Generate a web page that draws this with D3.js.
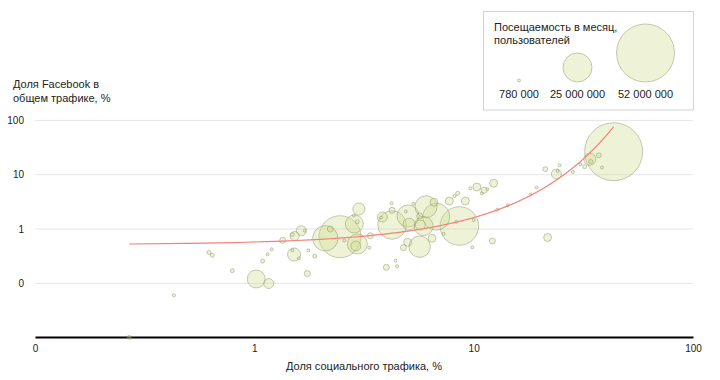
<!DOCTYPE html>
<html>
<head>
<meta charset="utf-8">
<script src="https://cdn.jsdelivr.net/npm/d3@7"></script>
<style>
  body { margin: 0; background: #fff; }
  svg text { font-family: "Liberation Sans", Arial, sans-serif; fill: #222; }
</style>
</head>
<body>
<svg id="chart" width="720" height="380"></svg>
<script>
// share of social traffic, %
const socialShare = [
  0.269, 0.430, 0.621, 0.643, 0.794, 1.02, 1.164, 1.091, 1.150, 1.199,
  1.346, 1.490, 1.527, 1.638, 1.699, 1.517, 1.490, 1.596, 1.763, 1.884,
  1.744, 2.459, 2.107, 2.221, 2.572, 2.857, 2.996, 2.843, 2.949, 2.949,
  2.903, 3.344, 3.380, 3.998, 4.406, 4.475, 4.227, 4.245, 3.834, 3.78,
  4.245, 4.907, 5.022, 5.075, 4.779, 5.001, 5.308, 5.673, 5.673, 5.913,
  5.712, 6.065, 6.597, 6.757, 6.458, 7.296, 8.605, 8.336, 7.745, 9.163,
  10.0, 9.861, 10.34, 11.15, 10.89, 11.57, 9.66, 8.45, 8.19, 12.33,
  12.17, 12.82, 14.32, 18.17, 19.37, 21.22, 21.74, 23.83, 24.15, 24.66,
  28.33, 30.64, 32.06, 33.86, 34.2, 37.22, 38.49, 43.47
];
// Facebook share of total traffic, %
const facebookShare = [
  0.0101, 0.060, 0.369, 0.328, 0.171, 0.120, 0.099, 0.257, 0.342, 0.423,
  0.619, 0.792, 0.743, 0.930, 0.930, 0.339, 0.407, 0.289, 0.405, 0.318,
  0.151, 0.721, 0.674, 1.0, 0.614, 1.236, 2.335, 1.773, 1.363, 0.529,
  0.486, 0.453, 0.753, 0.197, 0.261, 0.206, 2.973, 2.209, 1.663, 1.63,
  1.185, 2.101, 1.736, 1.221, 0.453, 0.569, 2.923, 1.736, 0.472, 1.136,
  1.185, 2.574, 3.103, 1.685, 0.674, 0.819, 1.136, 1.363, 3.279, 3.279,
  1.465, 0.461, 5.937, 5.160, 4.543, 5.408, 5.617, 4.543, 4.053, 6.975,
  0.601, 2.266, 2.733, 4.317, 5.81, 12.63, 0.697, 10.30, 11.70, 14.90,
  11.21, 15.54, 14.04, 19.22, 17.5, 22.77, 13.57, 26.5
];
// monthly visitors
const visitors = [
  1.7e6, 0.8e6, 1.7e6, 1.7e6, 1.7e6, 14.7e6, 7.3e6, 1.7e6, 0.8e6, 0.8e6,
  3.6e6, 1.7e6, 6.4e6, 7.3e6, 0.8e6, 10.1e6, 0.8e6, 0.8e6, 0.8e6, 1.7e6,
  3.6e6, 37.1e6, 21.6e6, 3.6e6, 0.8e6, 14.7e6, 9.2e6, 0.8e6, 1.7e6, 16.6e6,
  7.3e6, 0.8e6, 3.6e6, 3.6e6, 0.8e6, 0.8e6, 0.8e6, 3.6e6, 7.3e6, 0.8e6,
  24.6e6, 0.8e6, 18.5e6, 9.2e6, 3.6e6, 5.4e6, 0.8e6, 3.6e6, 17.9e6, 15.7e6,
  7.3e6, 18.5e6, 5.4e6, 23.1e6, 5.4e6, 0.8e6, 33.9e6, 0.8e6, 5.4e6, 5.4e6,
  0.8e6, 0.8e6, 5.4e6, 3.6e6, 0.8e6, 0.8e6, 0.8e6, 1.7e6, 0.8e6, 5.4e6,
  3.6e6, 0.8e6, 0.8e6, 0.8e6, 0.8e6, 2.6e6, 5.4e6, 7.3e6, 0.8e6, 0.8e6,
  0.8e6, 0.8e6, 1.7e6, 9.2e6, 1.7e6, 2.6e6, 0.8e6, 52e6
];

const xTicks = [0.1, 1, 10, 100];
const xTickLabels = ['0', '1', '10', '100'];
const yTicks = [0.1, 1, 10, 100];
const yTickLabels = ['0', '1', '10', '100'];

const legendValues = [780000, 25000000, 52000000];
const legendLabels = ['780 000', '25 000 000', '52 000 000'];

// exponential trend  y = a * e^(b x)
const trendA = 0.513;
const trendB = 0.1151;

const svg = d3.select('#chart');
const x = d3.scaleLog().domain([0.1, 100]).range([35, 693]);
const y = d3.scaleLog().domain([0.01, 100]).range([337.6, 120.4]);
const r = d3.scaleLinear().domain([780000, 52000000]).range([1.5, 29]);

const bubbleFill = 'rgb(205,220,140)';
const bubbleStroke = 'rgba(130,140,100,0.45)';

// grid
svg.append('g')
  .selectAll('line')
  .data(yTicks)
  .join('line')
    .attr('x1', 35)
    .attr('x2', 693)
    .attr('y1', d => y(d))
    .attr('y2', d => y(d))
    .attr('stroke', '#e6e6e6')
    .attr('stroke-width', 1);

// y axis labels
const yAxis = svg.append('g')
  .attr('transform', 'translate(24,0)')
  .call(d3.axisLeft(y).tickValues(yTicks)
    .tickFormat((d, i) => yTickLabels[i]).tickSize(0).tickPadding(0));
yAxis.select('.domain').remove();
yAxis.selectAll('text').attr('font-size', 10).style('font-family', null).attr('fill', '#222');

// x axis
const xAxis = svg.append('g')
  .attr('transform', 'translate(0,337)')
  .call(d3.axisBottom(x).tickValues(xTicks)
    .tickFormat((d, i) => xTickLabels[i]).tickSize(0).tickPadding(8));
xAxis.select('.domain').attr('stroke', '#000').attr('stroke-width', 2);
xAxis.selectAll('text').attr('font-size', 10).style('font-family', null).attr('fill', '#222');

// bubbles
const points = socialShare.map((d, i) => ({x: d, y: facebookShare[i], v: visitors[i]}))
  .sort((a, b) => b.v - a.v);

svg.append('g')
  .selectAll('circle')
  .data(points)
  .join('circle')
    .attr('cx', d => x(d.x))
    .attr('cy', d => y(d.y))
    .attr('r', d => r(d.v))
    .attr('fill', bubbleFill)
    .attr('fill-opacity', 0.35)
    .attr('stroke', bubbleStroke)
    .attr('stroke-width', 1);

// trend line
const xExtent = d3.extent(socialShare);
const trend = d3.range(0, 201).map(i => {
  const xv = xExtent[0] + (xExtent[1] - xExtent[0]) * i / 200;
  return [xv, trendA * Math.exp(trendB * xv)];
});
svg.append('path')
  .datum(trend)
  .attr('fill', 'none')
  .attr('stroke', '#f4807a')
  .attr('stroke-width', 1.2)
  .attr('d', d3.line().x(d => x(d[0])).y(d => y(d[1])));

// axis titles
svg.append('text')
  .attr('x', 364).attr('y', 370)
  .attr('text-anchor', 'middle')
  .attr('font-size', 11)
  .text('Доля социального трафика, %');

const yTitle = svg.append('text').attr('font-size', 11);
yTitle.append('tspan').attr('x', 13).attr('y', 88).text('Доля Facebook в');
yTitle.append('tspan').attr('x', 13).attr('y', 101.5).text('общем трафике, %');

// legend
const legend = svg.append('g');
legend.append('rect')
  .attr('x', 483.5).attr('y', 11.5)
  .attr('width', 210).attr('height', 98.5)
  .attr('fill', '#fff')
  .attr('stroke', '#d4d4d4');

const lTitle = legend.append('text').attr('font-size', 11);
lTitle.append('tspan').attr('x', 494).attr('y', 30.5).text('Посещаемость в месяц,');
lTitle.append('tspan').attr('x', 494).attr('y', 44).text('пользователей');

const legendX = [519, 577.5, 645.5];
legend.selectAll('circle.leg')
  .data(legendValues)
  .join('circle')
    .attr('class', 'leg')
    .attr('cx', (d, i) => legendX[i])
    .attr('cy', d => 82 - r(d))
    .attr('r', d => r(d))
    .attr('fill', bubbleFill)
    .attr('fill-opacity', 0.35)
    .attr('stroke', bubbleStroke);

legend.selectAll('text.leg')
  .data(legendLabels)
  .join('text')
    .attr('class', 'leg')
    .attr('x', (d, i) => legendX[i])
    .attr('y', 98)
    .attr('text-anchor', 'middle')
    .attr('font-size', 11)
    .text(d => d);
</script>
</body>
</html>
